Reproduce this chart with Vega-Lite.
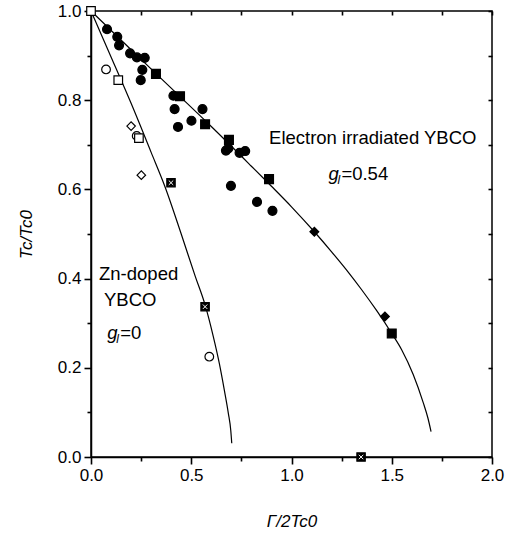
{
  "$schema": "https://vega.github.io/schema/vega-lite/v6.json",
  "width": 401,
  "height": 446,
  "autosize": {"type": "none"},
  "padding": {"left": 91, "top": 11, "right": 19, "bottom": 80},
  "background": "white",
  "config": {
    "font": "Liberation Sans",
    "view": {"stroke": "black", "strokeWidth": 1.5},
    "axis": {
      "grid": false,
      "ticks": true,
      "labelFlush": false,
      "labelOverlap": false,
      "domainColor": "black",
      "domainWidth": 1.5,
      "tickColor": "black",
      "tickOpacity": 1,
      "tickWidth": 1.6,
      "labelColor": "black",
      "labelFont": "Liberation Sans",
      "labelFontSize": 17,
      "titleColor": "black",
      "titleFont": "Liberation Sans",
      "titleFontSize": 17,
      "titleFontWeight": "normal",
      "titleFontStyle": "italic"
    }
  },
  "datasets": {
    "points": [
      {"x": 0.080, "y": 0.959, "series": "Electron filled circle"},
      {"x": 0.131, "y": 0.942, "series": "Electron filled circle"},
      {"x": 0.140, "y": 0.923, "series": "Electron filled circle"},
      {"x": 0.195, "y": 0.905, "series": "Electron filled circle"},
      {"x": 0.229, "y": 0.896, "series": "Electron filled circle"},
      {"x": 0.268, "y": 0.895, "series": "Electron filled circle"},
      {"x": 0.256, "y": 0.868, "series": "Electron filled circle"},
      {"x": 0.248, "y": 0.845, "series": "Electron filled circle"},
      {"x": 0.411, "y": 0.810, "series": "Electron filled circle"},
      {"x": 0.417, "y": 0.780, "series": "Electron filled circle"},
      {"x": 0.434, "y": 0.740, "series": "Electron filled circle"},
      {"x": 0.501, "y": 0.754, "series": "Electron filled circle"},
      {"x": 0.556, "y": 0.780, "series": "Electron filled circle"},
      {"x": 0.673, "y": 0.687, "series": "Electron filled circle"},
      {"x": 0.685, "y": 0.692, "series": "Electron filled circle"},
      {"x": 0.741, "y": 0.682, "series": "Electron filled circle"},
      {"x": 0.769, "y": 0.686, "series": "Electron filled circle"},
      {"x": 0.698, "y": 0.608, "series": "Electron filled circle"},
      {"x": 0.828, "y": 0.572, "series": "Electron filled circle"},
      {"x": 0.905, "y": 0.552, "series": "Electron filled circle"},
      {"x": 0.324, "y": 0.859, "series": "Electron filled square"},
      {"x": 0.444, "y": 0.809, "series": "Electron filled square"},
      {"x": 0.569, "y": 0.746, "series": "Electron filled square"},
      {"x": 0.688, "y": 0.711, "series": "Electron filled square"},
      {"x": 0.888, "y": 0.623, "series": "Electron filled square"},
      {"x": 1.500, "y": 0.277, "series": "Electron filled square"},
      {"x": 1.114, "y": 0.505, "series": "Electron filled diamond"},
      {"x": 1.466, "y": 0.315, "series": "Electron filled diamond"},
      {"x": 0.075, "y": 0.869, "series": "Zn open circle"},
      {"x": 0.228, "y": 0.720, "series": "Zn open circle"},
      {"x": 0.590, "y": 0.225, "series": "Zn open circle"},
      {"x": 0.000, "y": 1.000, "series": "Zn open square"},
      {"x": 0.136, "y": 0.845, "series": "Zn open square"},
      {"x": 0.239, "y": 0.715, "series": "Zn open square"},
      {"x": 0.200, "y": 0.742, "series": "Zn open diamond"},
      {"x": 0.251, "y": 0.632, "series": "Zn open diamond"},
      {"x": 0.399, "y": 0.615, "series": "Zn crossed square"},
      {"x": 0.569, "y": 0.337, "series": "Zn crossed square"},
      {"x": 1.347, "y": 0.000, "series": "Zn crossed square"}
    ],
    "curves": [
      {"x": 0.000, "y": 1.000, "curve": "gl=0"},
      {"x": 0.100, "y": 0.897, "curve": "gl=0"},
      {"x": 0.200, "y": 0.793, "curve": "gl=0"},
      {"x": 0.300, "y": 0.683, "curve": "gl=0"},
      {"x": 0.369, "y": 0.606, "curve": "gl=0"},
      {"x": 0.450, "y": 0.500, "curve": "gl=0"},
      {"x": 0.520, "y": 0.405, "curve": "gl=0"},
      {"x": 0.569, "y": 0.341, "curve": "gl=0"},
      {"x": 0.610, "y": 0.270, "curve": "gl=0"},
      {"x": 0.640, "y": 0.210, "curve": "gl=0"},
      {"x": 0.665, "y": 0.150, "curve": "gl=0"},
      {"x": 0.685, "y": 0.098, "curve": "gl=0"},
      {"x": 0.697, "y": 0.060, "curve": "gl=0"},
      {"x": 0.702, "y": 0.031, "curve": "gl=0"},
      {"x": 0.000, "y": 1.000, "curve": "gl=0.54"},
      {"x": 0.200, "y": 0.913, "curve": "gl=0.54"},
      {"x": 0.400, "y": 0.827, "curve": "gl=0.54"},
      {"x": 0.600, "y": 0.741, "curve": "gl=0.54"},
      {"x": 0.800, "y": 0.652, "curve": "gl=0.54"},
      {"x": 0.900, "y": 0.607, "curve": "gl=0.54"},
      {"x": 1.000, "y": 0.561, "curve": "gl=0.54"},
      {"x": 1.114, "y": 0.505, "curve": "gl=0.54"},
      {"x": 1.200, "y": 0.460, "curve": "gl=0.54"},
      {"x": 1.275, "y": 0.419, "curve": "gl=0.54"},
      {"x": 1.350, "y": 0.375, "curve": "gl=0.54"},
      {"x": 1.425, "y": 0.328, "curve": "gl=0.54"},
      {"x": 1.500, "y": 0.277, "curve": "gl=0.54"},
      {"x": 1.550, "y": 0.240, "curve": "gl=0.54"},
      {"x": 1.607, "y": 0.185, "curve": "gl=0.54"},
      {"x": 1.657, "y": 0.122, "curve": "gl=0.54"},
      {"x": 1.680, "y": 0.088, "curve": "gl=0.54"},
      {"x": 1.696, "y": 0.057, "curve": "gl=0.54"}
    ],
    "labels": [
      {"x": 0.888, "y": 0.702, "part": "plain", "text": "Electron irradiated YBCO"},
      {"x": 0.040, "y": 0.397, "part": "plain", "text": "Zn-doped"},
      {"x": 0.065, "y": 0.339, "part": "plain", "text": "YBCO"},
      {"x": 1.184, "y": 0.621, "part": "g", "text": "g"},
      {"x": 0.081, "y": 0.264, "part": "g", "text": "g"},
      {"x": 1.184, "y": 0.621, "part": "sub", "text": "l"},
      {"x": 0.081, "y": 0.264, "part": "sub", "text": "l"},
      {"x": 1.184, "y": 0.621, "part": "eq", "text": "=0.54"},
      {"x": 0.081, "y": 0.264, "part": "eq", "text": "=0"}
    ]
  },
  "layer": [
    {
      "data": {"name": "curves"},
      "mark": {"type": "line", "color": "black", "strokeWidth": 1.2, "interpolate": "monotone"},
      "encoding": {
        "x": {"field": "x", "type": "quantitative", "scale": {"domain": [0, 2], "nice": false},
          "axis": {"orient": "bottom", "values": [0, 0.5, 1, 1.5, 2], "format": ".1f", "ticks": true, "tickSize": 7, "labelPadding": 3, "title": "Γ/2Tc0", "titlePadding": 30}},
        "y": {"field": "y", "type": "quantitative", "scale": {"domain": [0, 1], "nice": false},
          "axis": {"orient": "left", "values": [0, 0.2, 0.4, 0.6, 0.8, 1.0], "format": ".1f", "ticks": true, "tickSize": 7, "labelPadding": 3, "title": "Tc/Tc0", "titlePadding": 22}},
        "detail": {"field": "curve"}
      }
    },
    {
      "data": {"name": "points"},
      "mark": {"type": "point", "filled": false, "stroke": "black", "strokeWidth": 1.2, "opacity": 1},
      "encoding": {
        "x": {"field": "x", "type": "quantitative",
          "axis": {"orient": "bottom", "values": [0.25, 0.75, 1.25, 1.75], "labels": false, "title": null, "domain": false, "ticks": true, "tickSize": 4}},
        "y": {"field": "y", "type": "quantitative",
          "axis": {"orient": "left", "values": [0.1, 0.3, 0.5, 0.7, 0.9], "labels": false, "title": null, "domain": false, "ticks": true, "tickSize": 4}},
        "shape": {"field": "series", "type": "nominal", "legend": null,
          "scale": {"domain": ["Electron filled circle", "Electron filled square", "Electron filled diamond", "Zn open circle", "Zn open square", "Zn open diamond", "Zn crossed square"],
                    "range": ["circle", "square", "diamond", "circle", "square", "diamond", "square"]}},
        "fill": {"field": "series", "type": "nominal", "legend": null,
          "scale": {"domain": ["Electron filled circle", "Electron filled square", "Electron filled diamond", "Zn open circle", "Zn open square", "Zn open diamond", "Zn crossed square"],
                    "range": ["black", "black", "black", "white", "white", "white", "black"]}},
        "size": {"field": "series", "type": "nominal", "legend": null,
          "scale": {"domain": ["Electron filled circle", "Electron filled square", "Electron filled diamond", "Zn open circle", "Zn open square", "Zn open diamond", "Zn crossed square"],
                    "range": [80, 70, 100, 55, 55, 55, 55]}}
      }
    },
    {
      "data": {"name": "points"},
      "transform": [{"filter": "datum.series === 'Zn crossed square'"}],
      "mark": {"type": "point", "shape": "M-0.6,-0.6L0.6,0.6M0.6,-0.6L-0.6,0.6", "filled": false, "stroke": "white", "strokeWidth": 1, "size": 55, "opacity": 1},
      "encoding": {
        "x": {"field": "x", "type": "quantitative", "axis": null},
        "y": {"field": "y", "type": "quantitative", "axis": null}
      }
    },
    {
      "data": {"name": "labels"},
      "transform": [{"filter": "datum.part === 'plain'"}],
      "mark": {"type": "text", "align": "left", "baseline": "alphabetic", "fontSize": 18.5, "font": "Liberation Sans", "color": "black"},
      "encoding": {
        "x": {"field": "x", "type": "quantitative",
          "axis": {"orient": "top", "values": [0, 0.25, 0.5, 0.75, 1, 1.25, 1.5, 1.75, 2], "labels": false, "title": null, "domain": false, "ticks": true, "tickSize": -4}},
        "y": {"field": "y", "type": "quantitative",
          "axis": {"orient": "right", "values": [0, 0.1, 0.2, 0.3, 0.4, 0.5, 0.6, 0.7, 0.8, 0.9, 1.0], "labels": false, "title": null, "domain": false, "ticks": true, "tickSize": -4}},
        "text": {"field": "text"}
      }
    },
    {
      "data": {"name": "labels"},
      "transform": [{"filter": "datum.part === 'g'"}],
      "mark": {"type": "text", "align": "left", "baseline": "alphabetic", "fontSize": 18.5, "fontStyle": "italic", "font": "Liberation Sans", "color": "black"},
      "encoding": {
        "x": {"field": "x", "type": "quantitative", "axis": null},
        "y": {"field": "y", "type": "quantitative", "axis": null},
        "text": {"field": "text"}
      }
    },
    {
      "data": {"name": "labels"},
      "transform": [{"filter": "datum.part === 'sub'"}],
      "mark": {"type": "text", "align": "left", "baseline": "alphabetic", "fontSize": 12, "fontStyle": "italic", "font": "Liberation Sans", "color": "black", "dx": 9, "dy": 4},
      "encoding": {
        "x": {"field": "x", "type": "quantitative", "axis": null},
        "y": {"field": "y", "type": "quantitative", "axis": null},
        "text": {"field": "text"}
      }
    },
    {
      "data": {"name": "labels"},
      "transform": [{"filter": "datum.part === 'eq'"}],
      "mark": {"type": "text", "align": "left", "baseline": "alphabetic", "fontSize": 18.5, "font": "Liberation Sans", "color": "black", "dx": 13},
      "encoding": {
        "x": {"field": "x", "type": "quantitative", "axis": null},
        "y": {"field": "y", "type": "quantitative", "axis": null},
        "text": {"field": "text"}
      }
    }
  ],
  "resolve": {"axis": {"x": "independent", "y": "independent"}}
}
